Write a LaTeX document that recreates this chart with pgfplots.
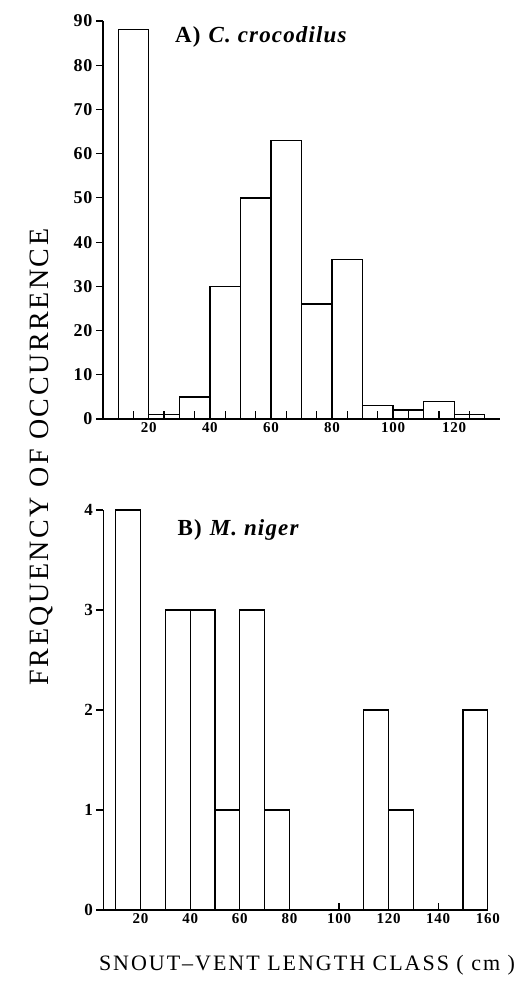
\documentclass[border=0pt]{standalone}
\usepackage{fontspec}
\setmainfont{Liberation Serif}
\newfontfamily\spaced[LetterSpace=9]{Liberation Serif}
\newfontfamily\lightspaced[LetterSpace=5]{Liberation Serif}
\usepackage{pgfplots}
\pgfplotsset{compat=1.18}

\pgfplotsset{
  histo/.style={
    scale only axis,
    axis x line=bottom, axis y line=left,
    axis line style={-, line width=1.3pt},
    every tick/.style={black, line width=1.2pt},
    xtick align=inside, ytick align=outside,
    major tick length=7pt, minor tick length=8pt,
    /pgf/number format/assume math mode=true,
    clip=false,
  },
}

\begin{document}
\begin{tikzpicture}[x=1pt,y=1pt]
\useasboundingbox (0,0) rectangle (528,991);

% A) C. crocodilus
\begin{axis}[histo,
  at={(103pt,572pt)}, anchor=south west,
  width=397pt, height=398pt,
  xmin=5, xmax=135, ymin=0, ymax=90,
  xtick={20,40,...,120}, minor xtick={15,25,...,125},
  major x tick style={draw=none},
  ytick={0,10,...,90},
  xticklabel style={font=\lightspaced\bfseries\fontsize{15}{15}\selectfont},
  yticklabel style={font=\lightspaced\bfseries\fontsize{18}{18}\selectfont},
]
\addplot[ybar interval, draw=black, fill=none, line width=1.3pt] coordinates {
  (10,88)(20,1)(30,5)(40,30)(50,50)(60,63)(70,26)(80,36)
  (90,3)(100,2)(110,4)(120,1)(130,1)
};
\node[anchor=west, font=\lightspaced\fontsize{23}{23}\selectfont] at (axis cs:27.5,86.4)
  {\textbf{A)} \textbf{\textit{C. crocodilus}}};
\end{axis}

% B) M. niger
\begin{axis}[histo,
  at={(103.4pt,81pt)}, anchor=south west,
  width=384.4pt, height=400pt,
  xmin=5, xmax=160, ymin=0, ymax=4,
  xtick={20,40,...,160},
  ytick={0,1,...,4},
  xticklabel style={font=\lightspaced\bfseries\fontsize{15}{15}\selectfont},
  yticklabel style={font=\lightspaced\bfseries\fontsize{17}{17}\selectfont},
]
\addplot[ybar interval, draw=black, fill=none, line width=1.3pt] coordinates {
  (10,4)(20,0)(30,3)(40,3)(50,1)(60,3)(70,1)(80,0)
  (90,0)(100,0)(110,2)(120,1)(130,0)(140,0)(150,2)(160,2)
};
\node[anchor=west, font=\lightspaced\fontsize{23}{23}\selectfont] at (axis cs:33.5,3.8)
  {\textbf{B)} \textbf{\textit{M. niger}}};
\end{axis}

\node[rotate=90, font=\spaced\fontsize{28}{28}\selectfont] at (41,534)
  {FREQUENCY OF OCCURRENCE};
\node[font=\spaced\fontsize{22}{22}\selectfont] at (307,26)
  {SNOUT–VENT LENGTH CLASS ( cm )};
\end{tikzpicture}
\end{document}
